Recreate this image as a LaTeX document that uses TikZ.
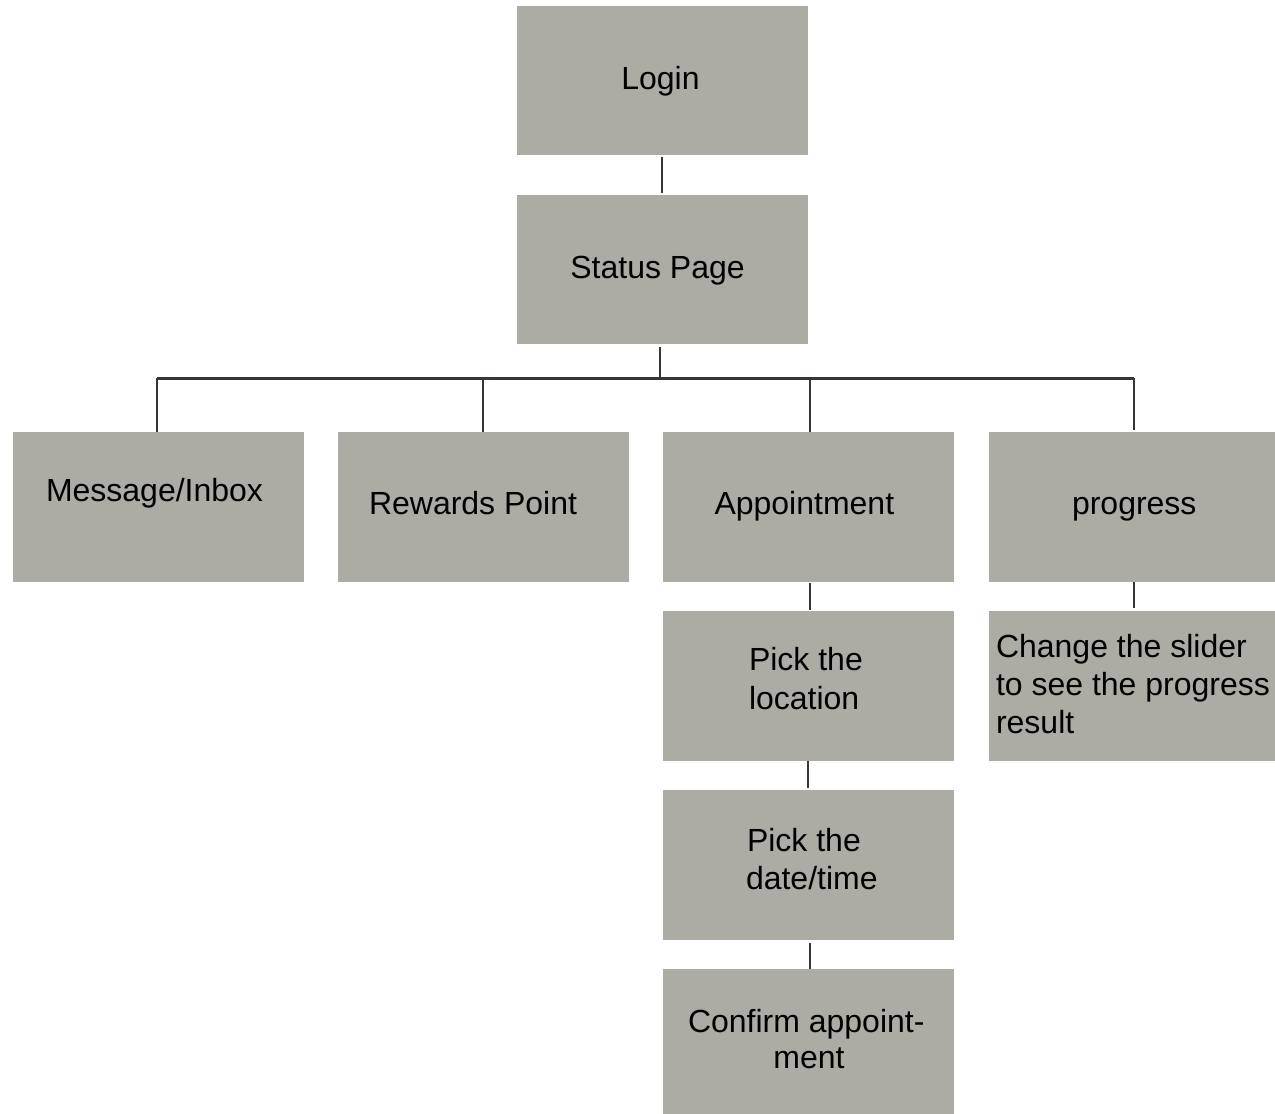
\documentclass[tikz,border=0pt]{standalone}
\usepackage{fontspec}
\setmainfont{Liberation Sans}
\definecolor{boxgray}{RGB}{172,172,165}
\definecolor{linec}{RGB}{58,52,52}
\begin{document}
\begin{tikzpicture}[x=1pt,y=-1pt,
  box/.style={rectangle,fill=boxgray,draw=none,inner sep=0pt,outer sep=0pt,anchor=north west},
  lbl/.style={inner sep=0pt,outer sep=0pt,font=\fontsize{32}{39}\selectfont,text=black},
  conn/.style={draw=linec,line width=2.5pt}]
\useasboundingbox[fill=white] (0,0) rectangle (1275,1114);
% boxes
\node[box,minimum width=291pt,minimum height=149pt] (login) at (517,6) {};
\node[box,minimum width=291pt,minimum height=149pt] (status) at (517,195) {};
\node[box,minimum width=291pt,minimum height=150pt] (msg) at (13,432) {};
\node[box,minimum width=291pt,minimum height=150pt] (rew) at (338,432) {};
\node[box,minimum width=291pt,minimum height=150pt] (app) at (663,432) {};
\node[box,minimum width=286pt,minimum height=150pt] (prog) at (989,432) {};
\node[box,minimum width=291pt,minimum height=150pt] (loc) at (663,611) {};
\node[box,minimum width=291pt,minimum height=150pt] (date) at (663,790) {};
\node[box,minimum width=291pt,minimum height=145pt] (conf) at (663,969) {};
\node[box,minimum width=286pt,minimum height=150pt] (slider) at (989,611) {};
% texts
\node[lbl,anchor=base] (tlogin) at (660.5,89) {Login};
\node[lbl,anchor=base] (tstatus) at (657.5,278) {Status Page};
\node[lbl,anchor=base west] (tmsg) at (46,501) {Message/Inbox};
\node[lbl,anchor=base west] (trew) at (369,514) {Rewards Point};
\node[lbl,anchor=base west] (tapp) at (714.5,514) {Appointment};
\node[lbl,anchor=base west] (tprog) at (1072,514) {progress};
\node[lbl,anchor=base west] (tloca) at (749,670) {Pick the};
\node[lbl,anchor=base west] (tlocb) at (749,709) {location};
\node[lbl,anchor=base west] (tdatea) at (747,851) {Pick the};
\node[lbl,anchor=base west] (tdateb) at (746,889) {date/time};
\node[lbl,anchor=base west] (tconfa) at (688,1032) {Confirm appoint-};
\node[lbl,anchor=base] (tconfb) at (809,1068) {ment};
\node[lbl,anchor=base west] (tslia) at (996,657) {Change the slider};
\node[lbl,anchor=base west] (tslib) at (996,695) {to see the progress};
\node[lbl,anchor=base west] (tslic) at (996,733) {result};
% connectors
\coordinate (bus) at (660,378);
\draw[conn,shorten <=2pt,shorten >=2pt] ([xshift=-0.5pt]login.south) -- ([xshift=-0.5pt]status.north);
\draw[conn,shorten <=3pt] ([xshift=-2.5pt]status.south) -- (bus);
\draw[draw=linec,line width=3pt] ([xshift=-1.5pt]msg.north |- bus) -- ([xshift=2pt]prog.north |- bus);
\draw[conn] ([xshift=-1.5pt]msg.north |- bus) -- ([xshift=-1.5pt]msg.north);
\draw[conn] ([xshift=-0.5pt]rew.north |- bus) -- ([xshift=-0.5pt]rew.north);
\draw[conn] ([xshift=1.5pt]app.north |- bus) -- ([xshift=1.5pt]app.north);
\draw[conn,shorten >=2pt] ([xshift=2pt]prog.north |- bus) -- ([xshift=2pt]prog.north);
\draw[conn,shorten <=1pt,shorten >=1pt] ([xshift=1.5pt]app.south) -- ([xshift=1.5pt]loc.north);
\draw[conn,shorten >=2pt] ([xshift=-0.5pt]loc.south) -- ([xshift=-0.5pt]date.north);
\draw[conn,shorten <=3pt] ([xshift=1.5pt]date.south) -- ([xshift=1.5pt]conf.north);
\draw[conn,shorten >=3pt] ([xshift=2pt]prog.south) -- ([xshift=2pt]slider.north);
\end{tikzpicture}
\end{document}
